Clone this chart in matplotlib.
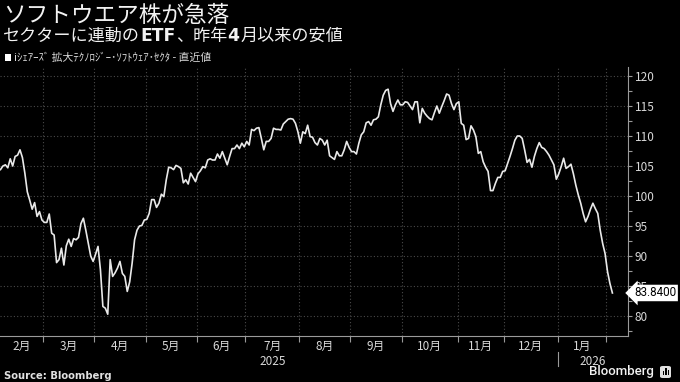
#!/usr/bin/env python3
"""
ソフトウエア株 チャート (Bloomberg風)
"""

import matplotlib
matplotlib.use('Agg')
import matplotlib.pyplot as plt
import matplotlib.transforms as mtransforms
from matplotlib.patches import Rectangle, FancyBboxPatch
from matplotlib.ticker import FixedLocator, MultipleLocator, NullFormatter
import numpy as np
import pandas as pd

plt.rcParams['font.family'] = ['Noto Sans CJK JP', 'DejaVu Sans']

# テキスト
title = 'ソフトウエア株が急落'
subtitle_parts = [('セクターに連動の', 'normal'), ('ETF', 'bold'),
                  ('、昨年', 'normal'), ('4', 'bold'),
                  ('月以来の安値', 'normal')]
legend_label = 'iｼｪｱｰｽﾞ 拡大ﾃｸﾉﾛｼﾞｰ･ｿﾌﾄｳｪｱ･ｾｸﾀ - 直近値'
source_text = 'Source: Bloomberg'
month_labels = ['2月', '3月', '4月', '5月', '6月', '7月', '8月', '9月',
                '10月', '11月', '12月', '1月']
year_labels = ['2025', '2026']
y_ticks = [80, 85, 90, 95, 100, 105, 110, 115, 120]

# 取引日 (米国市場の休日を除く)
start_date = '2025-02-04'
holidays = ['2025-02-17', '2025-04-18', '2025-05-26', '2025-06-19',
            '2025-07-04', '2025-09-01', '2025-11-27', '2025-12-25',
            '2026-01-01', '2026-01-19']

# 終値 (チャートから読み取り)
values_feb_may = [
    104.4, 105.0, 105.2, 104.7, 106.2, 105.0, 106.6, 106.8, 107.7, 106.4,
    103.8, 100.7, 99.3, 97.8, 98.9, 96.6, 97.4, 96.0, 95.6, 95.6,
    97.0, 93.8, 93.5, 88.9, 89.4, 91.3, 88.5, 91.7, 92.8, 91.6,
    92.9, 92.7, 93.1, 95.4, 96.3, 94.3, 92.1, 90.0, 89.1, 90.3,
    91.6, 87.7, 81.6, 81.3, 80.3, 89.4, 86.6, 87.2, 88.0, 89.1,
    87.1, 86.6, 84.1, 85.7, 88.8, 92.7, 94.3, 95.0, 95.1, 96.0,
    96.1, 97.1, 99.4, 99.4, 98.1, 98.8, 100.3,
]
values_may_aug = [
    99.9, 102.7, 104.8, 104.7, 104.4, 105.1, 104.9, 104.6, 102.2, 102.7,
    102.0, 103.8, 103.1, 102.4, 103.7, 104.2, 104.9, 104.7, 106.0, 106.2,
    106.0, 106.0, 107.0, 106.3, 107.4, 106.3, 105.2, 106.6, 107.9, 107.9,
    108.5, 107.9, 108.8, 108.2, 109.1, 108.5, 111.1, 110.9, 111.3, 111.4,
    109.6, 107.7, 109.1, 109.1, 109.6, 111.3, 111.1, 111.1, 111.0, 112.0,
    112.4, 112.8, 112.9, 112.8, 112.1, 110.7, 108.8, 110.7, 110.4, 111.8,
    109.9, 109.8, 108.9,
]
values_aug_nov = [
    108.5, 109.6, 109.3, 108.5, 109.3, 106.7, 106.4, 106.1, 107.4, 106.7,
    106.7, 107.7, 109.1, 108.1, 107.4, 107.4, 107.0, 108.8, 110.2, 110.7,
    112.2, 112.4, 111.8, 112.7, 112.8, 113.2, 115.2, 116.8, 117.6, 117.8,
    115.4, 114.1, 115.2, 116.0, 115.2, 115.2, 115.7, 115.6, 115.0, 114.4,
    115.7, 115.7, 112.2, 114.6, 113.8, 113.3, 112.9, 112.7, 113.9, 115.0,
    113.8, 114.9, 115.9, 117.0, 116.8, 115.4, 114.4, 115.4, 115.7, 112.1,
    111.8, 109.4, 109.6,
]
values_nov_feb = [
    111.7, 111.0, 109.9, 107.1, 107.4, 105.7, 104.8, 104.1, 100.9, 100.9,
    102.1, 103.1, 103.1, 104.1, 104.2, 105.4, 106.6, 107.9, 109.3, 110.0,
    110.0, 109.6, 107.7, 105.6, 106.1, 104.8, 106.6, 107.9, 108.9, 108.1,
    107.9, 107.4, 106.8, 106.0, 105.2, 102.8, 103.7, 104.9, 106.3, 104.6,
    104.9, 105.3, 103.7, 101.8, 100.2, 98.8, 97.1, 95.7, 96.6, 97.8,
    98.8, 97.9, 97.1, 94.3, 92.1, 90.4, 87.4, 85.4, 83.84,
]

values = values_feb_may + values_may_aug + values_aug_nov + values_nov_feb
dates = pd.bdate_range(start=start_date, periods=len(values), freq='C',
                       holidays=holidays)
x = np.arange(len(values))

# 色
BG = '#000000'
LINE = '#e9e9e9'
GRID = '#4a4a4a'
TEXT = '#d8d8d8'
AXIS = '#9a9a9a'

W, H = 680, 382
fig = plt.figure(figsize=(W / 100, H / 100), dpi=100, facecolor=BG)
ax_left, ax_right, ax_top, ax_bottom = 0, 628, 67, 336
ax = fig.add_axes([ax_left / W, 1 - ax_bottom / H,
                   (ax_right - ax_left) / W, (ax_bottom - ax_top) / H])
ax.set_facecolor(BG)

ax.plot(x, values, color=LINE, lw=1.2, solid_joinstyle='round', zorder=3)

x_min, x_max = -0.2, 257.4
ax.set_xlim(x_min, x_max)
ax.set_ylim(76.67, 121.5)

# 月の境界
month_start = np.where(np.r_[True, dates.month[1:] != dates.month[:-1]])[0]
bounds = [i - 0.5 for i in month_start[1:]]
edges = [x_min] + bounds
centers = [(edges[k] + edges[k + 1]) / 2 for k in range(len(month_labels))]

ax.xaxis.set_major_locator(FixedLocator(bounds))
ax.xaxis.set_major_formatter(NullFormatter())
ax.xaxis.set_minor_locator(FixedLocator(centers))
ax.set_xticklabels(month_labels, minor=True)
ax.tick_params(axis='x', which='major', length=4, color=AXIS, width=0.8)
ax.tick_params(axis='x', which='minor', length=0, pad=3, labelsize=8.5,
               labelcolor=TEXT)

ax.yaxis.tick_right()
ax.set_yticks(y_ticks)
ax.yaxis.set_minor_locator(MultipleLocator(2.5))
ax.tick_params(axis='y', which='both', length=3, color=AXIS, width=0.8,
               labelsize=8.5, labelcolor=TEXT, pad=2)

ax.grid(True, which='major', color=GRID, linestyle=(0, (1, 2)), lw=0.8)
for s in ['top', 'left']:
    ax.spines[s].set_visible(False)
for s in ['bottom', 'right']:
    ax.spines[s].set_color(AXIS)
    ax.spines[s].set_linewidth(0.8)

# 年ラベルと区切り線
jan_bound = bounds[month_labels.index('1月') - 1]
tr = mtransforms.blended_transform_factory(ax.transData, ax.transAxes)
ax.plot([jan_bound, jan_bound], [-0.06, -0.11], color=AXIS, lw=0.8,
        transform=tr, clip_on=False)
ax.text((x_min + jan_bound) / 2 - 2.5, -0.093, year_labels[0], transform=tr,
        ha='center', va='center', fontsize=8.5, color=TEXT)
ax.text((jan_bound + x_max) / 2, -0.093, year_labels[1], transform=tr,
        ha='center', va='center', fontsize=8.5, color=TEXT)

# 直近値ラベル
tr_y = mtransforms.blended_transform_factory(ax.transAxes, ax.transData)
ax.text(1.0 + 6 / (ax_right - ax_left), values[-1], f'{values[-1]:.4f}',
        transform=tr_y, ha='left', va='center', fontsize=8.4, color='black',
        family='Roboto', zorder=5,
        bbox=dict(boxstyle='larrow,pad=0.15', fc='white', ec='none'))

# タイトル・凡例
fig.text(3 / W, 1 - 16 / H, title, fontsize=16.3, color='#f2f2f2',
         ha='left', va='center')

renderer = fig.canvas.get_renderer()
x_pos = 3
for part, weight in subtitle_parts:
    fam = ['DejaVu Sans'] if weight == 'bold' else None
    t = fig.text(x_pos / W, 1 - 36 / H, part, fontsize=12.3, color='#f2f2f2',
                 ha='left', va='center', fontweight=weight,
                 family=fam if fam else plt.rcParams['font.family'])
    x_pos = t.get_window_extent(renderer).x1 + (1 if weight == 'bold' else 0)

fig.patches.append(Rectangle((5 / W, 1 - 61 / H), 6 / W, 7 / H,
                             transform=fig.transFigure, fc='white', ec='none'))
fig.text(14 / W, 1 - 58 / H, legend_label, fontsize=7.8, color=TEXT,
         ha='left', va='center')

# フッター
fig.text(4 / W, 1 - 376 / H, source_text, fontsize=7.2, color='#e0e0e0',
         fontweight='bold', family='DejaVu Sans', ha='left', va='center')
fig.text(654 / W, 1 - 372 / H, 'Bloomberg', fontsize=9.5, color='#f2f2f2',
         family='Roboto', fontweight='medium', ha='right', va='center')
fig.patches.append(FancyBboxPatch((660 / W, 1 - 378 / H), 11 / W, 12 / H,
                                  boxstyle='round,pad=0,rounding_size=0.004',
                                  transform=fig.transFigure, fc='#e0e0e0',
                                  ec='none'))
for bx, bh in [(662.5, 4), (665, 7), (667.5, 5)]:
    fig.patches.append(Rectangle((bx / W, 1 - 375 / H), 1.5 / W, bh / H,
                                 transform=fig.transFigure, fc='black',
                                 ec='none'))

fig.savefig('out.png', dpi=100, facecolor=BG)
plt.close(fig)
